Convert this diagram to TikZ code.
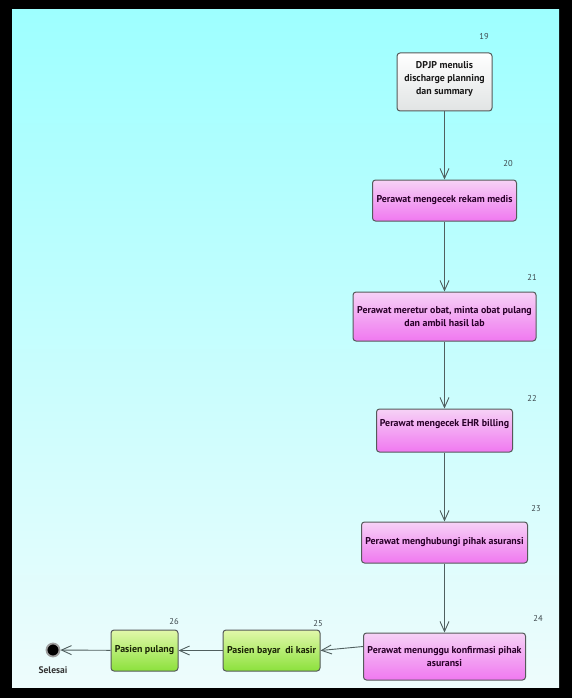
\documentclass[tikz,border=0pt]{standalone}
\usepackage{fontspec}
\setmainfont{PT Sans}
\usetikzlibrary{arrows.meta}
\definecolor{bgtop}{RGB}{158,255,255}
\definecolor{bgbot}{RGB}{238,252,252}
\definecolor{boxline}{RGB}{85,90,90}
\definecolor{lineclr}{RGB}{80,95,95}
\definecolor{pinktop}{RGB}{246,210,246}
\definecolor{pinkbot}{RGB}{240,120,240}
\definecolor{pinktext}{RGB}{40,0,40}
\definecolor{greentop}{RGB}{225,248,170}
\definecolor{greenbot}{RGB}{140,225,60}
\definecolor{greentext}{RGB}{25,35,5}
\definecolor{whitebot}{RGB}{225,228,228}
\definecolor{numclr}{RGB}{60,70,75}
\begin{document}
\begin{tikzpicture}[x=1pt,y=-1pt,
  act/.style={draw=boxline, line width=1pt, rounded corners=3pt, align=center,
    font=\bfseries\fontsize{9.9}{12.8}\selectfont, inner sep=2pt},
  pinkact/.style={act, top color=pinktop, bottom color=pinkbot, text=pinktext},
  greenact/.style={act, top color=greentop, bottom color=greenbot, text=greentext},
  whiteact/.style={act, top color=white, bottom color=whitebot, text=black!90},
  flow/.style={draw=lineclr, line width=0.9pt, -{Straight Barb[length=10pt,width=9pt]}},
  num/.style={font=\fontsize{8.5}{9}\selectfont, text=numclr}
]
\useasboundingbox (0,0) rectangle (572,698);
\fill[black] (0,0) rectangle (572,698);
\shade[top color=bgtop, bottom color=bgbot] (12,10) rectangle (559,687);

\node[whiteact, minimum width=95pt, minimum height=58pt] (n19) at (444.5,82)
  {DPJP menulis\\discharge planning\\dan summary\\[-5pt]~};
\node[num] (l19) at (484,37) {19};

\node[pinkact, minimum width=144pt, minimum height=41pt] (n20) at (444.5,200.5)
  {Perawat mengecek rekam medis};
\node[num] (l20) at (508,164) {20};

\node[pinkact, minimum width=183pt, minimum height=49pt] (n21) at (444.5,316.5)
  {Perawat meretur obat, minta obat pulang\\dan ambil hasil lab};
\node[num] (l21) at (532,277) {21};

\node[pinkact, minimum width=136pt, minimum height=43pt] (n22) at (444.5,430.5)
  {Perawat mengecek EHR billing\\[2pt]~};
\node[num] (l22) at (532,398) {22};

\node[pinkact, minimum width=166pt, minimum height=41pt] (n23) at (444.5,542.5)
  {Perawat menghubungi pihak asuransi};
\node[num] (l23) at (536,509) {23};

\node[pinkact, minimum width=162pt, minimum height=47pt] (n24) at (444.5,656.5)
  {Perawat menunggu konfirmasi pihak\\asuransi};
\node[num] (l24) at (538,618) {24};

\node[greenact, minimum width=97pt, minimum height=41pt] (n25) at (271.5,650.5)
  {Pasien bayar\ \ di kasir};
\node[num] (l25) at (318,624) {25};

\node[greenact, minimum width=67pt, minimum height=41pt] (n26) at (144.5,650.5)
  {Pasien pulang};
\node[num] (l26) at (174,622) {26};

\node[circle, fill=black, draw=gray!75, line width=1.8pt, minimum size=13pt, inner sep=0pt] (fin) at (53,650) {};
\node[font=\bfseries\fontsize{9.5}{10}\selectfont, text=black!80] (lfin) at (53,670) {Selesai};

\draw[flow] (n19) -- (n20);
\draw[flow] (n20) -- (n21);
\draw[flow] (n21) -- (n22);
\draw[flow] (n22) -- (n23);
\draw[flow] (n23) -- (n24);
\draw[flow] ([yshift=10pt]n24.west) -- (n25.east);
\draw[flow] (n25) -- (n26);
\draw[flow] (n26) -- (fin);
\end{tikzpicture}
\end{document}
